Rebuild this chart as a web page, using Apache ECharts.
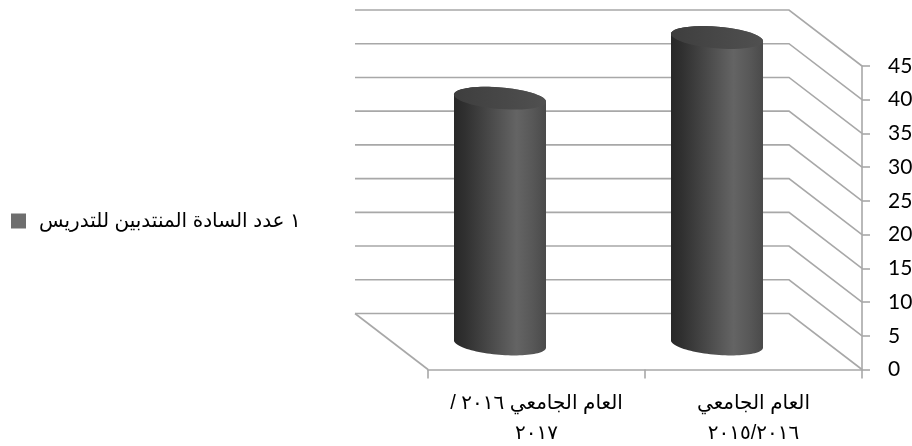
<!DOCTYPE html>
<html lang="ar">
<head>
<meta charset="utf-8">
<style>html,body{margin:0;padding:0;background:#fff}#c{width:912px;height:446px}</style>
<script src="https://cdn.jsdelivr.net/npm/echarts@6/dist/echarts.min.js"></script>
</head>
<body>
<div id="c"></div>
<script>
const categories = ['العام الجامعي\n٢٠١٥/٢٠١٦', 'العام الجامعي ٢٠١٦ /\u200f\n٢٠١٧'];
const seriesName = '١ عدد السادة المنتدبين للتدريس';
const seriesValues = [45, 36];
const tickValues = [0, 5, 10, 15, 20, 25, 30, 35, 40, 45];

const AR = '"Liberation Sans","DejaVu Sans",sans-serif';
const GRID = '#a8a8a8';
// depth projection of the 3D chart box
const DX = -73, DY = -56;

const chart = echarts.init(document.getElementById('c'), null, {renderer: 'canvas'});

function renderWall(params, api) {
  const p = api.coord([1, api.value(1)]);
  const cs = params.coordSys;
  const frontR = cs.x + cs.width, frontL = cs.x;
  const y = p[1];
  const children = [{
    type: 'polyline',
    shape: {points: [[frontL + DX, y + DY], [frontR + DX, y + DY], [frontR, y]]},
    style: {stroke: GRID, lineWidth: 1.6, fill: null}
  }];
  if (api.value(1) === 0) {
    children.push({
      type: 'line',
      shape: {x1: frontL + DX, y1: y + DY, x2: frontL, y2: y},
      style: {stroke: GRID, lineWidth: 1.6}
    });
  }
  return {type: 'group', children};
}

// points along a tilted ellipse from angle a0 to a1 (degrees); 90 is the front edge
function arcPoints(cx, cy, a0, a1) {
  const hw = 46, tilt = 3.8, ry = 10.8;
  const rx = Math.hypot(hw, tilt), th = Math.atan2(tilt, hw);
  const n = 48, pts = [];
  for (let i = 0; i <= n; i++) {
    const t = (a0 + (a1 - a0) * i / n) * Math.PI / 180;
    const ex = rx * Math.cos(t), ey = ry * Math.sin(t);
    pts.push([cx + ex * Math.cos(th) - ey * Math.sin(th), cy + ex * Math.sin(th) + ey * Math.cos(th)]);
  }
  return pts;
}

function renderCylinder(params, api) {
  const top = api.coord([api.value(0), api.value(1)]);
  const base = api.coord([api.value(0), 0]);
  const cx = top[0] - 36.5;
  const topY = top[1] - 28.5, baseY = base[1] - 25.5;
  const body = arcPoints(cx, baseY, 180, 0).concat(arcPoints(cx, topY, 0, -180));
  const lid = arcPoints(cx, topY, 0, 360);
  return {type: 'group', children: [
    {type: 'polygon', shape: {points: body}, style: {
      fill: new echarts.graphic.LinearGradient(0, 0, 1, 0, [
        {offset: 0, color: '#282828'}, {offset: 0.12, color: '#303030'},
        {offset: 0.68, color: '#646464'}, {offset: 0.85, color: '#585858'}, {offset: 1, color: '#4a4a4a'}
      ]), stroke: null}},
    {type: 'polygon', shape: {points: lid}, style: {
      fill: new echarts.graphic.LinearGradient(0, 0, 1, 0, [
        {offset: 0, color: '#3e3e3e'}, {offset: 1, color: '#505050'}
      ]), stroke: null}}
  ]};
}

chart.setOption({
  animation: false,
  backgroundColor: '#ffffff',
  legend: {
    data: [seriesName], left: 11, top: 211, padding: 0, itemWidth: 15, itemHeight: 15, itemGap: 0,
    icon: 'rect', selectedMode: false,
    textStyle: {fontFamily: AR, fontSize: 20, color: '#000', padding: [0, 0, 2, 8]}
  },
  grid: {left: 428, right: 50, top: 66, bottom: 76.5, outerBoundsMode: 'none'},
  xAxis: {
    type: 'category', data: categories, inverse: true,
    axisLine: {lineStyle: {color: GRID, width: 1.6}},
    axisTick: {show: true, length: 9, alignWithLabel: false, lineStyle: {color: GRID, width: 1.6}},
    axisLabel: {fontFamily: AR, fontSize: 20, color: '#000', lineHeight: 30, margin: 19, interval: 0},
    splitLine: {show: false}
  },
  yAxis: {
    type: 'value', position: 'right', min: 0, max: 45, interval: 5,
    axisLine: {show: true, onZero: false, lineStyle: {color: GRID, width: 1.6}},
    axisTick: {show: true, length: 8, lineStyle: {color: GRID, width: 1.6}},
    axisLabel: {fontFamily: 'Lato,"Open Sans",sans-serif', fontSize: 21, color: '#000', margin: 26, align: 'left',
      padding: [2, 0, 0, 0], formatter: v => String(v)},
    splitLine: {show: false}
  },
  series: [
    {
      name: 'wall', type: 'custom', coordinateSystem: 'cartesian2d', clip: false, z: 1,
      data: tickValues.map(v => [1, v]), encode: {x: 0, y: 1}, renderItem: renderWall, silent: true
    },
    {
      name: seriesName, type: 'custom', coordinateSystem: 'cartesian2d', clip: false, z: 3,
      itemStyle: {color: '#6e6e6e'},
      data: categories.map((c, i) => [i, seriesValues[i]]), encode: {x: 0, y: 1}, renderItem: renderCylinder
    }
  ]
});
</script>
</body>
</html>
